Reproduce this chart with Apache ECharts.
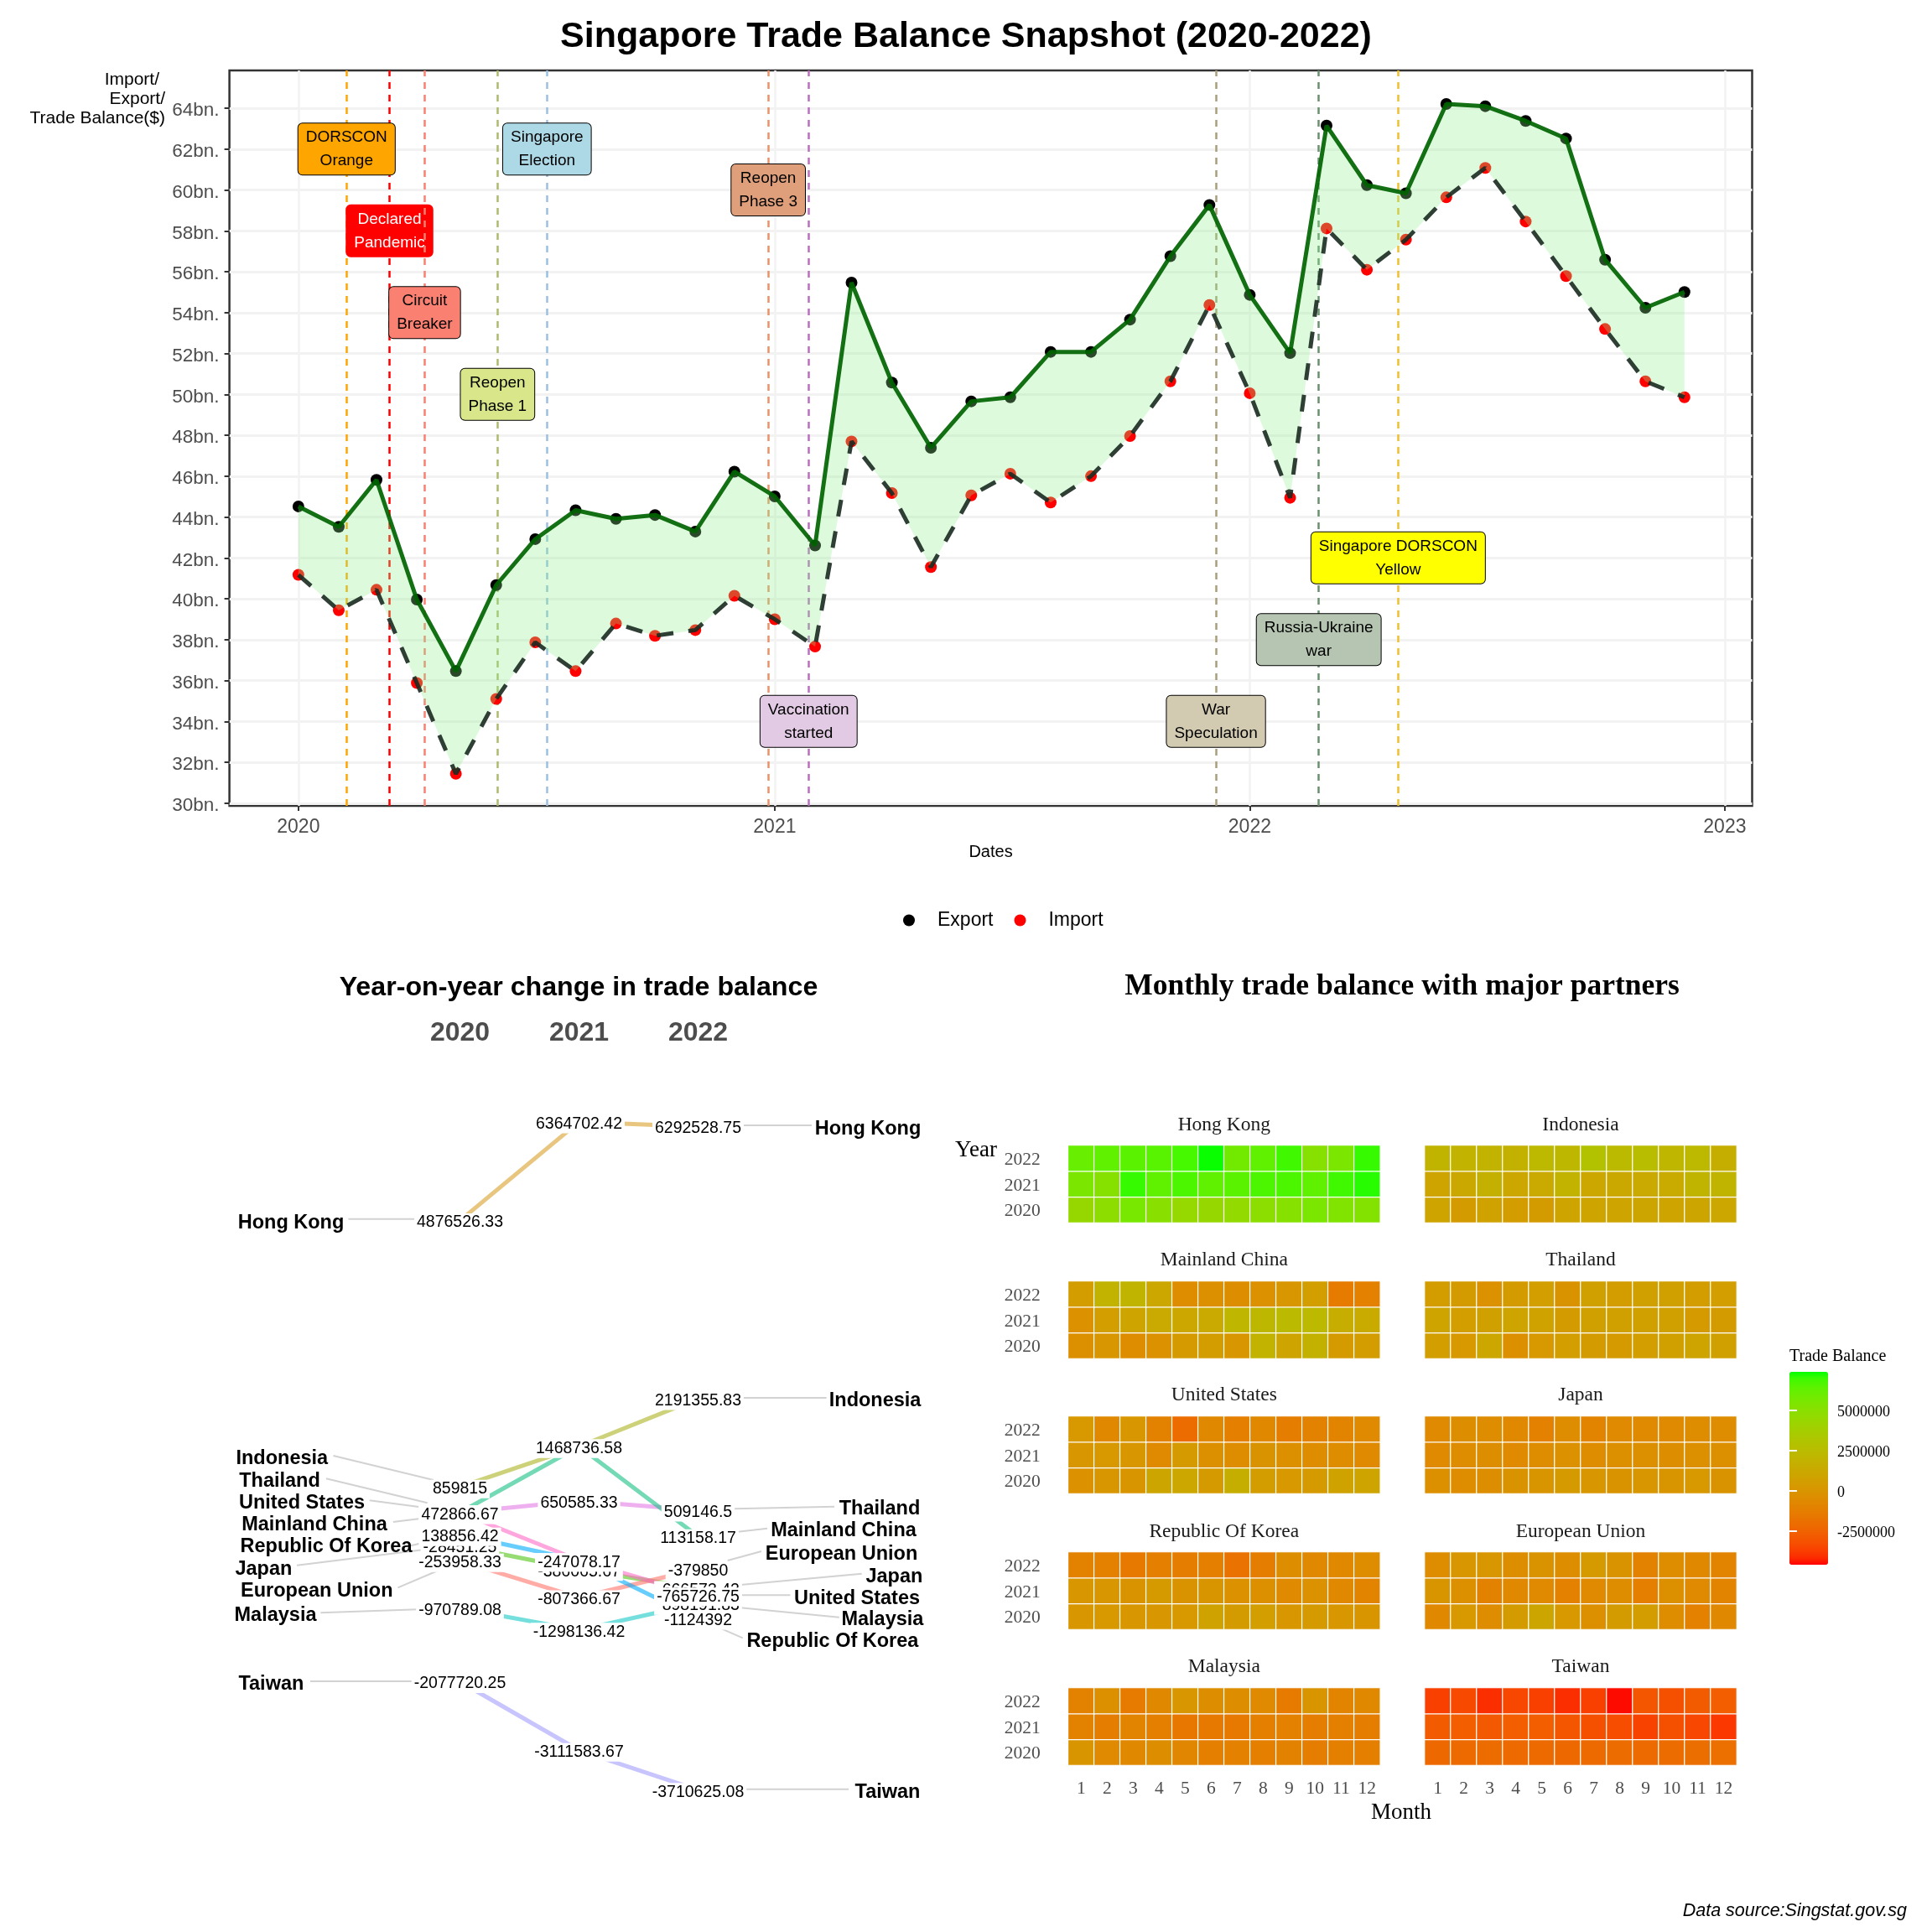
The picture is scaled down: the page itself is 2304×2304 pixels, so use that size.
<!DOCTYPE html>
<html><head><meta charset="utf-8">
<style>html,body{margin:0;padding:0;background:#fff}#c{width:2304px;height:2304px}</style>
<script src="https://cdn.jsdelivr.net/npm/echarts@6/dist/echarts.min.js"></script>
</head><body><div id="c"></div>
<script>
const months=['2020-01-01','2020-02-01','2020-03-01','2020-04-01','2020-05-01','2020-06-01','2020-07-01','2020-08-01','2020-09-01','2020-10-01','2020-11-01','2020-12-01','2021-01-01','2021-02-01','2021-03-01','2021-04-01','2021-05-01','2021-06-01','2021-07-01','2021-08-01','2021-09-01','2021-10-01','2021-11-01','2021-12-01','2022-01-01','2022-02-01','2022-03-01','2022-04-01','2022-05-01','2022-06-01','2022-07-01','2022-08-01','2022-09-01','2022-10-01','2022-11-01','2022-12-01'];
const exportBn=[44.52,43.52,45.82,39.96,36.46,40.67,42.92,44.33,43.91,44.10,43.29,46.22,45.01,42.61,55.47,50.58,47.39,49.66,49.86,52.08,52.08,53.66,56.76,59.27,54.87,52.02,63.15,60.24,59.84,64.21,64.10,63.38,62.52,56.59,54.24,55.01];
const importBn=[41.17,39.44,40.44,35.88,31.44,35.10,37.87,36.46,38.79,38.19,38.47,40.15,39.00,37.66,47.70,45.17,41.55,45.06,46.12,44.71,46.00,47.96,50.64,54.37,50.06,44.94,58.12,56.10,57.57,59.64,61.08,58.46,55.79,53.20,50.64,49.86];
const yTicks=[30,32,34,36,38,40,42,44,46,48,50,52,54,56,58,60,62,64];
const xTicks=['2020-01-01','2021-01-01','2022-01-01','2023-01-01'];
const eventTexts=['DORSCON\nOrange','Declared\nPandemic','Circuit\nBreaker','Reopen\nPhase 1','Singapore\nElection','Reopen\nPhase 3','Vaccination\nstarted','War\nSpeculation','Russia-Ukraine\nwar','Singapore DORSCON\nYellow'];
const eventDates=['2020-02-07','2020-03-11','2020-04-07','2020-06-02','2020-07-10','2020-12-27','2021-01-27','2021-12-06','2022-02-23','2022-04-25'];
const eventLevels=[62,58,54,50,62,60,34,34,38,42];
const eventFills=['#FFA500','#FF0000','#FA8072','#D9E78A','#ADD8E6','#DE9F7A','#E3CAE4','#D2CBB1','#B5C5B1','#FFFF00'];
const eventLines=['#FFA500','#FF0000','#FA8072','#AEBB6E','#9CC0E0','#E8936A','#BB6FC0','#A89F7B','#6B9070','#F0C030'];

const slopeYears=[2020,2021,2022];
const slopeJapan=[-28451.25,-386065.67,-666573.42];
const slopeMalaysia=[-970789.08,-1298136.42,-898191.83];
const slopeEU=[-253958.33,-807366.67,-379850];
const slopeThailand=[472866.67,650585.33,509146.5];
const slopeChina=[472866.67,1468736.58,113158.17];
const slopeKorea=[138856.42,-247078.17,-1124392];
const slopeUS=[472866.67,-247078.17,-765726.75];
const slopeIndonesia=[859815,1468736.58,2191355.83];
const slopeHongKong=[4876526.33,6364702.42,6292528.75];
const slopeTaiwan=[-2077720.25,-3111583.67,-3710625.08];

const heatMonths=['1','2','3','4','5','6','7','8','9','10','11','12'];
const heatYears=['2020','2021','2022'];
const heatHongKong=[[4.4,4.8,5.6,5.0,4.5,4.4,4.6,4.9,5.1,5.5,5.3,5.2],[5.5,5.1,7.0,6.3,6.7,6.3,6.4,6.7,6.7,6.3,6.9,7.1],[6.1,6.3,6.4,6.5,6.8,7.3,5.8,6.3,6.9,5.1,5.5,7.0]];
const heatIndonesia=[[.9,.4,.8,.5,.4,.9,.9,.9,1.0,.9,1.0,1.1],[.9,1.2,1.7,1.1,1.3,1.9,1.1,1.2,1.3,1.4,2.0,2.0],[2.0,1.9,1.9,1.8,2.3,2.2,2.9,2.4,2.6,2.1,2.3,1.6]];
const heatChina=[[-.3,.1,-.5,-.2,.3,.5,.1,1.9,.9,1.8,.3,.5],[-.2,.6,.9,1.3,1.1,1.3,2.1,2.2,2.4,2.3,1.5,1.4],[.5,1.9,2.0,1.1,-.5,-.3,-.4,-.2,.1,.6,-1.4,-1.1]];
const heatThailand=[[.6,.2,1.1,-.3,.2,.6,.4,.3,.6,.7,.9,.7],[.9,.6,.7,.9,.8,.4,.7,.7,.7,.7,.3,.4],[.5,.4,-.2,.4,.6,-.1,.7,.5,.7,.7,.5,.6]];
const heatUS=[[-.2,.1,0,1.0,1.1,.3,1.6,.5,.2,.3,.8,.9],[.1,.2,.1,-.6,.3,-.3,-.5,-.1,-.3,-.5,-.5,-.6],[.2,-.7,.1,-1.0,-2.1,-.7,-1.2,-.7,-1.3,-1.0,-.9,-.6]];
const heatJapan=[[-.3,-.5,-.4,-.1,0,.3,.1,-.1,.1,0,.2,-.1],[-.6,-.5,-.4,-.6,-.5,-.2,-.5,-.3,-.3,-.4,-.3,-.3],[-.6,-.4,-.5,-.7,-1.1,-.5,-.9,-.6,-.6,-.6,-.5,-.5]];
const heatKorea=[[.1,.2,.1,.1,.2,.8,.4,.6,.1,.3,.1,0],[.1,.1,-.1,.3,-.1,0,-.2,-.3,-.6,-.2,-.7,-.9],[-1.0,-1.1,-1.5,-1.2,-1.3,-1.2,-1.8,-1.3,-.4,-.7,-.7,-.5]];
const heatEU=[[-.7,.2,-.5,.4,1.0,.2,-.3,.4,.5,-.5,-1.1,-.7],[0,-.3,-1.0,-.7,-.6,-1.1,-.6,-.5,-1.2,-.3,-.6,-.9],[-.5,.1,.1,-.4,-.1,-.4,.3,-.1,-1.0,-.5,-.7,-.9]];
const heatMalaysia=[[0,-.6,-.7,-.4,-.8,-1.2,-1.1,-1.2,-1.0,-1.3,-1.2,-1.2],[-1.0,-1.3,-.9,-1.2,-1.6,-1.5,-1.5,-1.2,-1.1,-1.3,-1.2,-1.3],[-1.0,-.3,-1.4,-.7,.1,-.4,-.4,-.6,-1.4,0,-.9,-.7]];
const heatTaiwan=[[-2.3,-2.2,-2.1,-2.2,-2.2,-2.3,-2.2,-2.1,-2.2,-2.1,-2.0,-1.9],[-2.8,-2.7,-2.9,-2.7,-2.7,-3.0,-3.2,-3.3,-3.6,-3.2,-3.5,-3.9],[-3.7,-3.4,-4.1,-3.5,-3.7,-4.1,-3.7,-4.5,-3.0,-3.2,-2.8,-2.7]];
const legendTicks=[-2500000,0,2500000,5000000];

const SANS="'Liberation Sans'",SERIF="'Liberation Serif'";
const t=s=>Date.parse(s);

// Lab gradient red -> green like ggplot scale_fill_gradient
function lab2hex(L,a,b){
  const fy=(L+16)/116,fx=fy+a/500,fz=fy-b/200;
  const f=v=>v>0.2068966?v*v*v:(v-16/116)/7.787;
  const X=.95047*f(fx),Y=f(fy),Z=1.08883*f(fz);
  const r=3.2406*X-1.5372*Y-.4986*Z,g=-.9689*X+1.8758*Y+.0415*Z,bb=.0557*X-.204*Y+1.057*Z;
  const c=v=>{v=Math.max(0,Math.min(1,v));v=v<=.0031308?12.92*v:1.055*Math.pow(v,1/2.4)-.055;return Math.round(v*255).toString(16).padStart(2,'0')};
  return '#'+c(r)+c(g)+c(bb);
}
const gradient=[];for(let i=0;i<=30;i++){const k=i/30;gradient.push(lab2hex(53.24+k*(87.73-53.24),80.09+k*(-86.18-80.09),67.2+k*(83.18-67.2)));}

const grid=[],xAxis=[],yAxis=[],series=[],graphic=[];
// ---------- main chart
grid.push({left:273.6,top:84,width:1815.9,height:877,show:true,borderColor:'#333',borderWidth:2.5,backgroundColor:'#fff'});
xAxis.push({type:'value',gridIndex:0,min:t('2019-11-09'),max:t('2023-01-22'),
  name:'Dates',nameLocation:'center',nameGap:45,nameTextStyle:{fontFamily:SANS,fontSize:20,color:'#000'},
  axisLine:{show:false},
  axisTick:{show:true,length:6,lineStyle:{color:'#333',width:2},customValues:xTicks.map(t)},
  axisLabel:{customValues:xTicks.map(t),formatter:v=>String(new Date(v).getUTCFullYear()),fontFamily:SANS,fontSize:23,color:'#4d4d4d',margin:14,hideOverlap:false},
  splitLine:{show:true,lineStyle:{color:'#f2f2f2',width:2.5}}});
yAxis.push({type:'value',gridIndex:0,min:29.87,max:65.85,
  axisLine:{show:false},
  axisTick:{show:true,length:6,lineStyle:{color:'#333',width:2},customValues:yTicks},
  axisLabel:{customValues:yTicks,formatter:v=>v+'bn.',fontFamily:SANS,fontSize:22.5,color:'#4d4d4d',margin:12,verticalAlign:'top',lineHeight:6},
  splitLine:{show:true,lineStyle:{color:'#f2f2f2',width:3}}});
const pts=a=>months.map((m,i)=>[t(m),a[i]]);
eventTexts.forEach((txt,i)=>{
  series.push({type:'scatter',name:'event-'+i,xAxisIndex:0,yAxisIndex:0,z:i===2?11.5:3,symbolSize:0,silent:true,
    data:[[t(eventDates[i]),eventLevels[i]]],
    markLine:{silent:true,symbol:'none',z:i===2?11.5:3,label:{show:false},lineStyle:{color:eventLines[i],type:[8,7],width:2.5},data:[{xAxis:t(eventDates[i])}]}});
  series.push({type:'scatter',name:'eventlabel-'+i,xAxisIndex:0,yAxisIndex:0,z:10+i,symbolSize:0,silent:true,itemStyle:{opacity:1},
    data:[[t(eventDates[i]),eventLevels[i]]],
    label:{show:true,position:'inside',opacity:1,formatter:()=>txt,fontFamily:SANS,fontSize:19,lineHeight:28,align:'center',color:i===1?'#fff':'#000',
      backgroundColor:eventFills[i],borderColor:i===1?'#FF0000':'#000',borderWidth:1,borderRadius:5,padding:[5,9,0,9]}});
});
series.push({type:'scatter',name:'Export',xAxisIndex:0,yAxisIndex:0,z:30,symbolSize:14,itemStyle:{color:'#000',opacity:1},data:pts(exportBn)});
series.push({type:'scatter',name:'Import',xAxisIndex:0,yAxisIndex:0,z:30,symbolSize:14,itemStyle:{color:'#ff0000',opacity:1},data:pts(importBn)});
series.push({type:'custom',name:'ribbon',xAxisIndex:0,yAxisIndex:0,z:31,silent:true,encode:{x:0,y:1},data:pts(exportBn),
  renderItem:(params,api)=>{
    if(params.dataIndex!==0)return null;
    const up=pts(exportBn).map(p=>api.coord(p)),lo=pts(importBn).map(p=>api.coord(p)).reverse();
    return {type:'polygon',shape:{points:up.concat(lo)},style:{fill:'#90EE90',opacity:.3}};
  }});
series.push({type:'line',name:'export-line',xAxisIndex:0,yAxisIndex:0,z:32,showSymbol:false,silent:true,lineStyle:{color:'#006400',width:5,opacity:.92,cap:'butt'},data:pts(exportBn)});
series.push({type:'line',name:'import-line',xAxisIndex:0,yAxisIndex:0,z:32,showSymbol:false,silent:true,lineStyle:{color:'#1a2a20',width:5,opacity:.9,type:[20,18]},data:pts(importBn)});

// ---------- slope graph
grid.push({left:548.5,top:1300,width:284,height:860});
xAxis.push({type:'value',gridIndex:1,position:'top',min:2020,max:2022,interval:1,axisLine:{show:false},axisTick:{show:false},splitLine:{show:false},
  axisLabel:{fontFamily:SANS,fontWeight:'bold',fontSize:32,color:'#4d4d4d',margin:52,formatter:v=>String(v)}});
yAxis.push({type:'value',gridIndex:1,min:-4031400,max:6843700,show:false,splitLine:{show:false}});
const slopeSeries=[['Japan',slopeJapan,'#50C514'],['Malaysia',slopeMalaysia,'#17CAC6'],['European Union',slopeEU,'#FF756B'],['Thailand',slopeThailand,'#E47BE6'],['Mainland China',slopeChina,'#17C084'],['Republic Of Korea',slopeKorea,'#02ACFC'],['United States',slopeUS,'#FF6BC8'],['Indonesia',slopeIndonesia,'#ACB421'],['Hong Kong',slopeHongKong,'#D9A02A'],['Taiwan',slopeTaiwan,'#A39DFD']];
slopeSeries.forEach((s,i)=>{
  const d=slopeYears.map((y,j)=>[y,s[1][j]]);
  series.push({type:'line',name:s[0]+' slope',xAxisIndex:1,yAxisIndex:1,z:3,clip:false,showSymbol:false,silent:true,lineStyle:{color:s[2],width:5,opacity:.6,cap:'butt'},data:d});
});
slopeSeries.forEach((s,i)=>{
  const d=slopeYears.map((y,j)=>[y,s[1][j]]);
  series.push({type:'scatter',name:s[0]+' values',xAxisIndex:1,yAxisIndex:1,z:5+i,clip:false,symbolSize:0,silent:true,itemStyle:{opacity:1},data:d,
    label:{show:true,position:'inside',offset:[0,2.5],opacity:1,formatter:p=>String(p.value[1]),fontFamily:SANS,fontSize:19.5,color:'#000',backgroundColor:'#fff',padding:[1,3]}});
});
const tx=(text,x,y,font,fill,align,extra)=>graphic.push(Object.assign({type:'text',x,y:y+1.5,z:50,silent:true,style:{text,font,fill:fill||'#000',align:align||'center',verticalAlign:'middle'}},extra||{}));
const conn=(x1,y1,x2,y2)=>graphic.push({type:'line',z:1,silent:true,shape:{x1,y1,x2,y2},style:{stroke:'#d2d2d2',lineWidth:2}});
const NF="bold 23.5px "+SANS;
[['Hong Kong',347,1456.8,415.4,1453.7,494.6,1453.7],['Indonesia',336.3,1738.3,397.5,1736,517,1765],['Thailand',333.5,1765,389,1763.3,509.7,1792.3],['United States',360,1791.3,440.7,1789.3,501.3,1797.3],['Mainland China',375,1817,468.8,1815,501.3,1811],['Republic Of Korea',389,1843.3,490,1843.3,507,1839.3],['Japan',314.4,1870,354,1866.7,504,1848.3],['European Union',377.8,1896.3,474.4,1893.3,529.4,1870],['Malaysia',328.5,1925.3,382.3,1923.3,498.5,1919.3],['Taiwan',323.4,2007,370,2005,491,2005],
 ['Hong Kong',1035,1344.6,886.8,1342,968,1342],['Indonesia',1043.6,1669,886.8,1667,985.6,1667],['Thailand',1049,1798,875.6,1799.3,995,1796.7],['Mainland China',1006,1824,880,1826.7,915,1822.7],['European Union',1003.5,1851.7,867.7,1861,908,1850],['Japan',1066.4,1879,883,1890,1027.7,1876.7],['United States',1022,1905,883,1902.3,942.4,1902.3],['Malaysia',1052.4,1930.3,883,1917.3,1000.8,1928.7],['Republic Of Korea',992.9,1956.3,853.7,1939.3,885.7,1953.3],['Taiwan',1058.5,2136.3,890,2133.7,1012,2133.7]
].forEach(a=>{tx(a[0],a[1],a[2],NF);conn(a[3],a[4],a[5],a[6]);});

// ---------- heatmaps
const panels=[['Hong Kong',heatHongKong],['Indonesia',heatIndonesia],['Mainland China',heatChina],['Thailand',heatThailand],['United States',heatUS],['Japan',heatJapan],['Republic Of Korea',heatKorea],['European Union',heatEU],['Malaysia',heatMalaysia],['Taiwan',heatTaiwan]];
const rowTop=[1366,1528,1689,1851,2013],colLeft=[1273.8,1699],titleY=[1340,1501.8,1662.4,1825,1986.7];
const heatIdx=[];
panels.forEach((p,i)=>{
  const r=Math.floor(i/2),c=i%2,gi=grid.length;
  grid.push({left:colLeft[c],top:rowTop[r],width:372,height:92});
  xAxis.push({type:'category',gridIndex:gi,data:heatMonths,axisLine:{show:false},axisTick:{show:false},splitLine:{show:false},
    axisLabel:{show:r===4,fontFamily:SERIF,fontSize:21.5,color:'#4d4d4d',margin:17,interval:0}});
  yAxis.push({type:'category',gridIndex:gi,data:heatYears,axisLine:{show:false},axisTick:{show:false},splitLine:{show:false},
    axisLabel:{show:c===0,fontFamily:SERIF,fontSize:21.5,color:'#4d4d4d',margin:33,verticalAlign:'top',lineHeight:4}});
  const d=[];p[1].forEach((row,yi)=>row.forEach((v,mi)=>d.push([mi,yi,Math.round(v*1e6)])));
  heatIdx.push(series.length);
  series.push({type:'heatmap',name:p[0],xAxisIndex:gi,yAxisIndex:gi,silent:true,itemStyle:{borderColor:'#fff',borderWidth:1.2},data:d});
  tx(p[0],colLeft[c]+186,titleY[r],'23.5px '+SERIF,'#1a1a1a');
});
// colour-bar scale
const cb=grid.length;
grid.push({left:2134,top:1636,width:46,height:230});
xAxis.push({type:'value',gridIndex:cb,show:false,min:0,max:1,splitLine:{show:false}});
yAxis.push({type:'value',gridIndex:cb,position:'right',z:10,min:-4610000,max:7360000,axisLine:{show:false},splitLine:{show:false},
  axisTick:{show:true,inside:true,length:9,lineStyle:{color:'#fff',width:2},customValues:legendTicks},
  axisLabel:{customValues:legendTicks,formatter:v=>String(v),fontFamily:SERIF,fontSize:18,color:'#000',margin:11,verticalAlign:'top',lineHeight:6}});
yAxis.push({type:'value',gridIndex:cb,position:'left',z:10,min:-4610000,max:7360000,axisLine:{show:false},splitLine:{show:false},
  axisTick:{show:true,inside:true,length:9,lineStyle:{color:'#fff',width:2},customValues:legendTicks},
  axisLabel:{show:false}});
const ytick=yAxis.length;
series.push({type:'line',name:'scale-helper',xAxisIndex:cb,yAxisIndex:ytick-2,data:[],silent:true});
series.push({type:'line',name:'scale-helper2',xAxisIndex:cb,yAxisIndex:ytick-1,data:[],silent:true});

// ---------- free text
tx('Singapore Trade Balance Snapshot (2020-2022)',1152,42.5,'bold 43px '+SANS);
tx('Import/',190,94,'21px '+SANS,'#000','right');
tx('Export/',197,117,'21px '+SANS,'#000','right');
tx('Trade Balance($)',197,140,'21px '+SANS,'#000','right');
tx('Year-on-year change in trade balance',690,1177,'bold 32.2px '+SANS);
tx('Monthly trade balance with major partners',1672,1175.5,'bold 35.5px '+SERIF);
tx('Year',1164,1370.5,'27px '+SERIF);
tx('Month',1671,2160.5,'27px '+SERIF);
tx('Trade Balance',2134,1616.4,'20px '+SERIF,'#000','left');
tx('Data source:Singstat.gov.sg',2274,2278,'italic 21.5px '+SANS,'#000','right');

const option={animation:false,useUTC:true,backgroundColor:'#fff',grid,xAxis,yAxis,series,
  graphic:{elements:graphic},
  legend:{data:['Export','Import'],left:1077,top:1086,padding:0,icon:'circle',itemWidth:58,itemHeight:14,itemGap:25,textStyle:{fontFamily:SANS,fontSize:23,color:'#000'}},
  visualMap:{type:'continuous',seriesIndex:heatIdx,min:-4610000,max:7360000,calculable:false,show:true,left:2134,top:1636,padding:0,itemWidth:46,itemHeight:230,text:null,inRange:{color:gradient},outOfRange:{color:'#ccc'}}
};
const chart=echarts.init(document.getElementById('c'),null,{renderer:'canvas',width:2304,height:2304});
chart.setOption(option);
</script></body></html>
